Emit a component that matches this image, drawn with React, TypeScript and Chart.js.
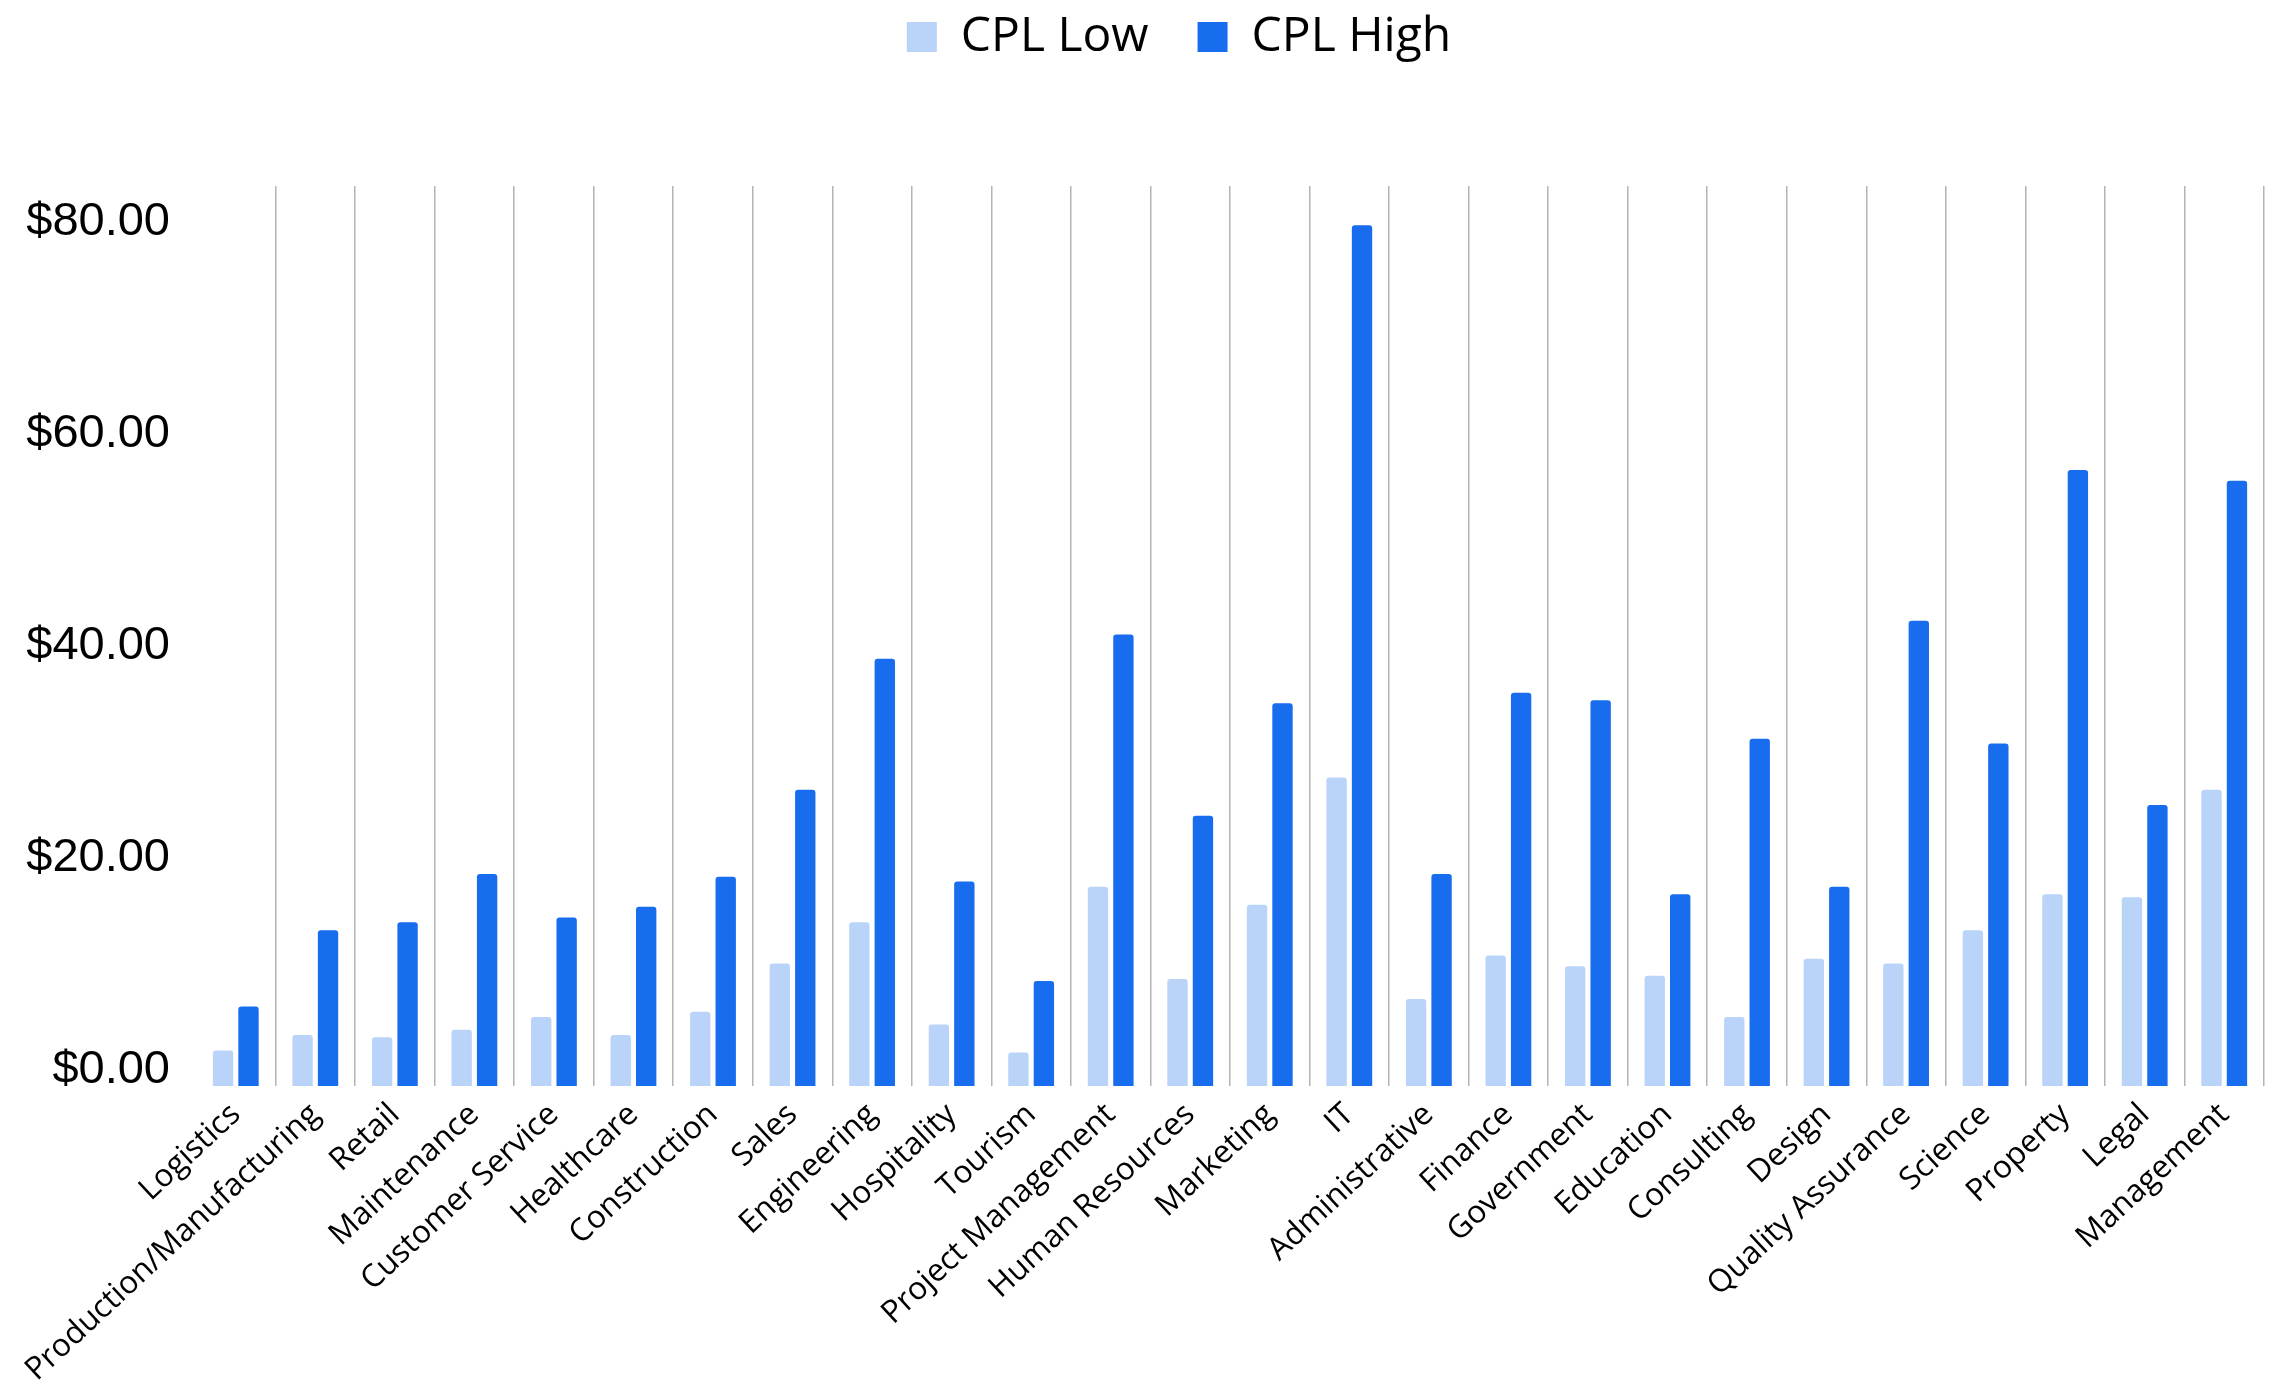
import React, { useEffect, useRef } from "react";
import { Chart, registerables } from "chart.js";

Chart.register(...registerables);

const categories = [
  "Logistics",
  "Production/Manufacturing",
  "Retail",
  "Maintenance",
  "Customer Service",
  "Healthcare",
  "Construction",
  "Sales",
  "Engineering",
  "Hospitality",
  "Tourism",
  "Project Management",
  "Human Resources",
  "Marketing",
  "IT",
  "Administrative",
  "Finance",
  "Government",
  "Education",
  "Consulting",
  "Design",
  "Quality Assurance",
  "Science",
  "Property",
  "Legal",
  "Management",
];

const cplLow = [
  1.85, 3.3, 3.1, 3.8, 5.0, 3.3, 5.5, 10.05, 13.95, 4.3, 1.65, 17.3, 8.6,
  15.6, 27.6, 6.7, 10.8, 9.8, 8.9, 5.0, 10.5, 10.05, 13.2, 16.6, 16.3, 26.45,
];

const cplHigh = [
  6.0, 13.2, 13.95, 18.5, 14.4, 15.4, 18.25, 26.45, 38.8, 17.8, 8.4, 41.1,
  24.0, 34.6, 79.7, 18.5, 35.6, 34.9, 16.6, 31.25, 17.3, 42.4, 30.8, 56.6,
  25.0, 55.6,
];

const yTicks = [0, 20, 40, 60, 80];

const LIGHT = "#bad3f8";
const DARK = "#186cee";
const GRID = "#b1b4b9";

const legendSpacer = {
  id: "legendSpacer",
  beforeInit(chart: any) {
    const legend = chart.legend;
    if (!legend) return;
    const fit = legend.fit;
    legend.fit = function () {
      fit.call(this);
      this.height += 115;
    };
  },
  afterLayout(chart: any) {
    const legend = chart.legend;
    if (!legend) return;
    legend.left += 47;
    legend.right += 47;
  },
};

export default function App() {
  const ref = useRef<HTMLCanvasElement | null>(null);

  useEffect(() => {
    if (!ref.current) return;
    const chart = new Chart(ref.current, {
      type: "bar",
      data: {
        labels: categories,
        datasets: [
          {
            label: "CPL Low",
            data: cplLow,
            backgroundColor: LIGHT,
            borderWidth: 0,
            borderRadius: 3,
            base: -1.5,
            categoryPercentage: 0.64,
            barPercentage: 0.8,
          } as any,
          {
            label: "CPL High",
            data: cplHigh,
            backgroundColor: DARK,
            borderWidth: 0,
            borderRadius: 3,
            base: -1.5,
            categoryPercentage: 0.64,
            barPercentage: 0.8,
          } as any,
        ],
      },
      options: {
        animation: false,
        responsive: true,
        maintainAspectRatio: false,
        devicePixelRatio: 1,
        layout: { padding: { left: 0, right: 32, top: 0, bottom: 0 } },
        plugins: {
          legend: {
            display: true,
            position: "top",
            labels: {
              boxWidth: 30,
              boxHeight: 30,
              padding: 49,
              color: "#000000",
              font: { family: "'Open Sans', sans-serif", size: 48 },
            },
          },
          tooltip: { enabled: false },
        },
        scales: {
          x: {
            grid: {
              display: true,
              offset: true,
              drawTicks: false,
              lineWidth: 1.5,
              color: (ctx: any) =>
                ctx.index === 0 || ctx.index === categories.length
                  ? "rgba(0,0,0,0)"
                  : GRID,
            },
            border: { display: false },
            ticks: {
              autoSkip: false,
              minRotation: 43,
              maxRotation: 43,
              padding: 10,
              color: "#000000",
              font: { family: "'Open Sans', sans-serif", size: 31.5 },
            },
            afterFit: (s: any) => {
              s.height = 300;
            },
          },
          y: {
            min: -1.5,
            max: 83.4,
            grid: { display: false, drawTicks: false },
            border: { display: false },
            afterBuildTicks: (axis: any) => {
              axis.ticks = yTicks.map((v) => ({ value: v }));
            },
            ticks: {
              padding: 26,
              color: "#000000",
              font: { family: "'Liberation Sans', Arial, sans-serif", size: 47 },
              callback: (v: any) => "$" + Number(v).toFixed(2),
            },
            afterFit: (s: any) => {
              s.width = 196;
            },
          },
        },
      },
      plugins: [legendSpacer],
    });
    return () => chart.destroy();
  }, []);

  return (
    <div
      style={{
        position: "absolute",
        left: 0,
        top: -36,
        width: 2296,
        height: 1422,
        background: "#ffffff",
      }}
    >
      <canvas ref={ref} />
    </div>
  );
}
